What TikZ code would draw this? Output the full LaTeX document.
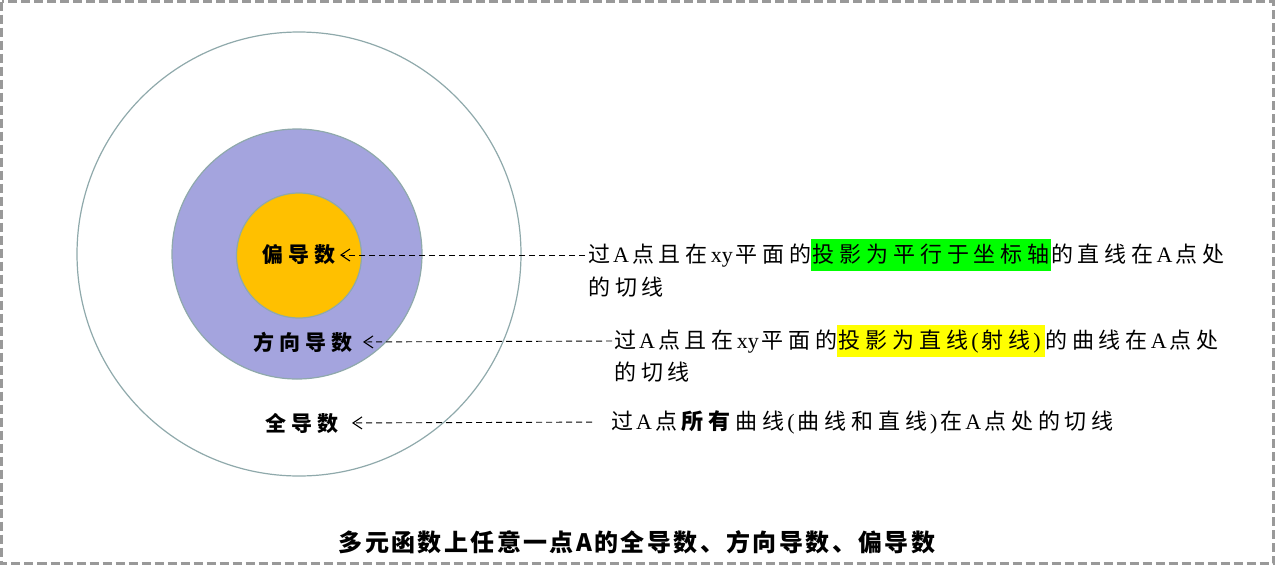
\documentclass[tikz,border=0pt]{standalone}
\usepackage{fontspec}
\setmainfont{Noto Sans CJK SC}
\newfontfamily\descfont{Noto Sans CJK SC}[LetterSpace=22]
\newfontfamily\widefont{Noto Sans CJK SC}[LetterSpace=22]
\newfontfamily\lblfont{Noto Sans CJK SC}[LetterSpace=25]
\newfontfamily\titlefont{Noto Sans CJK SC}[LetterSpace=10]
\newfontfamily\lat{Liberation Serif}
\newcommand{\La}[1]{\kern3pt{\lat #1}\kern3pt}
\newcommand{\hlbox}[2]{\begingroup\setlength\fboxsep{1.5pt}\colorbox{#1}{\rule[-7pt]{0pt}{29pt}{\widefont #2}}\endgroup}
\usetikzlibrary{arrows.meta}
\definecolor{ringc}{HTML}{8FA9AB}
\definecolor{midfill}{HTML}{A4A4DE}
\definecolor{corefill}{HTML}{FFC000}
\definecolor{framec}{HTML}{999999}
\definecolor{hlgreen}{HTML}{00FF00}
\definecolor{hlyellow}{HTML}{FFFF00}
\begin{document}
\begin{tikzpicture}[x=1pt,y=-1pt,
  ring/.style={draw=ringc, line width=1.2pt},
  lbl/.style={font=\fontsize{21}{25}\selectfont\lblfont\bfseries, inner sep=0pt, anchor=east},
  desc/.style={font=\fontsize{22}{26}\selectfont\descfont, inner sep=0pt, anchor=west},
  conn/.style={draw=black, line width=0.9pt, dash pattern=on 6pt off 4pt,
    -{Straight Barb[length=9pt,width=12pt,line width=1.1pt]}},
  ]
\useasboundingbox (0,0) rectangle (1275,566);
\draw[framec, line width=2.5pt, dash pattern=on 9pt off 4pt] (1.5,1.5) rectangle (1273.5,563.5);
% rings
\draw[ring, fill=white] (299,254) circle[radius=222pt];
\draw[ring, fill=midfill] (297,254) circle[radius=125pt];
\draw[ring, fill=corefill] (299,255.5) circle[radius=62.5pt];
% labels
\node[lbl] (lbl1) at (336,255) {偏导数};
\node[lbl] (lbl2) at (353,342) {方向导数};
\node[lbl] (lbl3) at (339,423) {全导数};
% descriptions
\node[desc] (d1a) at (588,255) {过\La{A}点且在\La{xy}平面的\hlbox{hlgreen}{投影为平行于坐标轴}的直线在\La{A}点处};
\node[desc] (d1b) at (588,287) {的切线};
\node[desc] (d2a) at (614,341) {过\La{A}点且在\La{xy}平面的\hlbox{hlyellow}{投影为直线\La{(}射线\La{)}}的曲线在\La{A}点处};
\node[desc] (d2b) at (614,372) {的切线};
\node[desc] (d3) at (611,422) {过\La{A}点\textbf{所有}曲线\La{(}曲线和直线\La{)}在\La{A}点处的切线};
% connectors
\draw[conn, shorten <=3pt, shorten >=4pt] (d1a.west) -- (lbl1.east);
\draw[conn, shorten <=2pt, shorten >=10pt] (d2a.west) -- (lbl2.east);
\draw[conn, shorten <=19pt, shorten >=13pt] (d3.west) -- (lbl3.east);
% title
\node[font=\fontsize{24}{28}\selectfont\titlefont\bfseries, inner sep=0pt] (title) at (637,542) {多元函数上任意一点A的全导数、方向导数、偏导数};
\end{tikzpicture}
\end{document}
